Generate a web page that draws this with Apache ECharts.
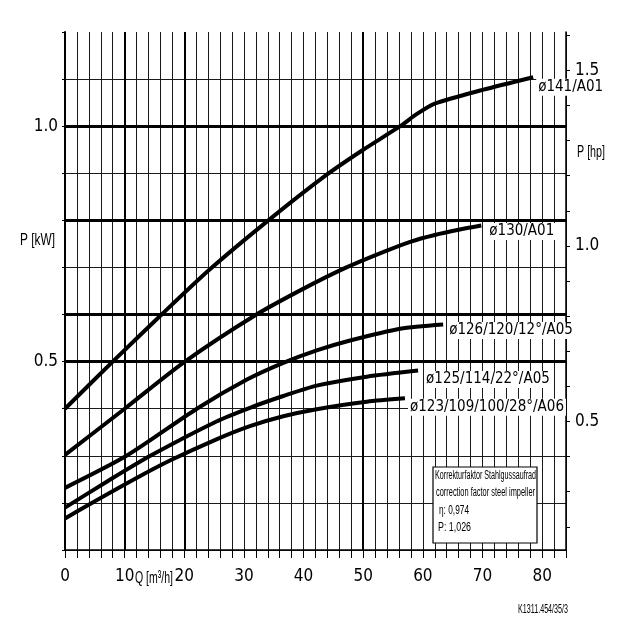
<!DOCTYPE html>
<html><head><meta charset="utf-8">
<script src="https://cdn.jsdelivr.net/npm/echarts@6/dist/echarts.min.js"></script>
<style>html,body{margin:0;padding:0;background:#fff}#c{width:640px;height:640px}</style>
</head><body><div id="c"></div>
<script>
// ---- data ----
const qRange = [0, 84];
const kwRange = [0.1, 1.2];
const kwToHp = 1 / 0.7457;
const qLabels = [0, 10, 20, 30, 40, 50, 60, 70, 80];
const kwLabels = [0.5, 1.0];
const hpTicks = [0.2, 0.3, 0.4, 0.5, 0.6, 0.7, 0.8, 0.9, 1.0, 1.1, 1.2, 1.3, 1.4, 1.5, 1.6];
const hpLabels = [0.5, 1.0, 1.5];
const thickKW = [0.5, 0.6, 0.8, 1.0];
const thickQ = [10, 20, 50];
const curveNames = ['ø141/A01', 'ø130/A01', 'ø126/120/12°/A05', 'ø125/114/22°/A05', 'ø123/109/100/28°/A06'];
const curve141 = [[0,0.40],[8,0.50],[16.2,0.60],[24.2,0.695],[34.1,0.80],[44,0.898],[50,0.950],[56.2,1.0],[59,1.026],[62,1.048],[70,1.077],[78.5,1.104]];
const curve130 = [[0,0.302],[10,0.40],[20.1,0.50],[32.1,0.60],[40,0.655],[47,0.699],[52.8,0.730],[58,0.755],[62,0.769],[66,0.780],[69.8,0.789]];
const curve126 = [[0,0.232],[10.3,0.30],[22.1,0.40],[30.5,0.462],[36.5,0.497],[42.2,0.524],[47.8,0.545],[56.2,0.570],[63.4,0.579]];
const curve125 = [[0,0.19],[7,0.245],[14.3,0.30],[25.4,0.373],[31,0.402],[36.6,0.427],[42.2,0.449],[50.6,0.468],[59.2,0.481]];
const curve123 = [[0,0.167],[4.5,0.20],[12,0.253],[17.6,0.290],[25.4,0.335],[31,0.363],[36.6,0.384],[42.2,0.399],[50.6,0.415],[57,0.422]];
const curves = [curve141, curve130, curve126, curve125, curve123];
const noteLines = ['Korrekturfaktor Stahlgussaufrad', 'correction factor steel impeller', 'η: 0,974', 'P: 1,026'];

// ---- helpers ----
const NARROW = "'Liberation Sans Narrow','DejaVu Sans Condensed','Liberation Sans',sans-serif";
const BASE = 'Liberation Sans';
const ctx = document.createElement('canvas').getContext('2d');
function measure(t, size) { ctx.font = size + 'px "' + BASE + '"'; return ctx.measureText(t).width; }
function fitText(t, x, y, w, size) {
  return { type: 'text', x: x, y: y, scaleX: w / measure(t, size), z: 110,
    style: { text: t, fontFamily: BASE, fontSize: size, fill: '#000', align: 'left', verticalAlign: 'middle' } };
}

const labelOffsets = [[3, 10], [6, 6], [4, 6], [6, 9], [3, 9]];

const chart = echarts.init(document.getElementById('c'), null, { renderer: 'canvas' });
const series = curves.map((d, i) => ({
  type: 'line', name: curveNames[i], data: d, xAxisIndex: 0, yAxisIndex: 0,
  showSymbol: false, smooth: 0.25, z: 5,
  lineStyle: { color: '#000', width: 4 },
  endLabel: { show: true, formatter: curveNames[i], distance: 0, offset: labelOffsets[i],
    fontFamily: NARROW, fontSize: 15, color: '#000', backgroundColor: '#fff', padding: [1, 2] }
}));
series.push({
  type: 'line', data: [], xAxisIndex: 0, yAxisIndex: 0, z: 3, silent: true,
  markLine: { symbol: 'none', silent: true, animation: false, label: { show: false },
    data: thickKW.map(v => ({ yAxis: v, lineStyle: { color: '#000', width: 3, type: 'solid' } }))
      .concat(thickQ.map(v => ({ xAxis: v, lineStyle: { color: '#000', width: 2, type: 'solid' } }))) }
});

chart.setOption({
  animation: false,
  backgroundColor: '#fff',
  grid: { left: 65, right: 74, top: 32, bottom: 90, containLabel: false },
  xAxis: [{
    type: 'value', min: qRange[0], max: qRange[1], interval: 2,
    axisLine: { show: true, onZero: false, lineStyle: { color: '#000', width: 1.5 } },
    axisTick: { show: true, length: 8, lineStyle: { color: '#000', width: 1 } },
    axisLabel: { show: true, customValues: qLabels, margin: 18, fontFamily: NARROW, fontSize: 17, color: '#000' },
    splitLine: { show: true, lineStyle: { color: '#1a1a1a', width: 1 } }
  }],
  yAxis: [{
    type: 'value', position: 'left', min: kwRange[0], max: kwRange[1], interval: 0.1,
    axisLine: { show: true, lineStyle: { color: '#000', width: 2 } },
    axisTick: { show: true, length: 3, lineStyle: { color: '#000' } },
    axisLabel: { show: true, customValues: kwLabels, formatter: v => v.toFixed(1), margin: 7,
      fontFamily: NARROW, fontSize: 17, color: '#000', padding: [0, 0, 8, 0] },
    splitLine: { show: true, showMaxLine: false, lineStyle: { color: '#1a1a1a', width: 1 } }
  }, {
    type: 'value', position: 'right', min: kwRange[0] * kwToHp, max: kwRange[1] * kwToHp,
    axisLine: { show: true, lineStyle: { color: '#000', width: 1.5 } },
    axisTick: { show: true, length: 4, customValues: hpTicks, lineStyle: { color: '#000' } },
    axisLabel: { show: true, customValues: hpLabels, formatter: v => v.toFixed(1), margin: 9,
      fontFamily: NARROW, fontSize: 17, color: '#000', padding: [0, 0, 12, 0] },
    splitLine: { show: false }
  }],
  series: series,
  graphic: [
    fitText('P [kW]', 20, 240, 35, 17),
    fitText('P [hp]', 577, 152, 28, 17),
    fitText('Q [m³/h]', 135, 578, 38, 17),
    fitText('K1311.454/35/3', 518, 610, 50, 12),
    { type: 'rect', z: 100, shape: { x: 433, y: 467, width: 104, height: 76 },
      style: { fill: '#fff', stroke: '#000', lineWidth: 1.2 } },
    fitText(noteLines[0], 435, 476, 101, 12),
    fitText(noteLines[1], 436, 493, 99, 12),
    fitText(noteLines[2], 439, 511, 30, 12),
    fitText(noteLines[3], 438, 528, 33, 12)
  ]
});
</script></body></html>
